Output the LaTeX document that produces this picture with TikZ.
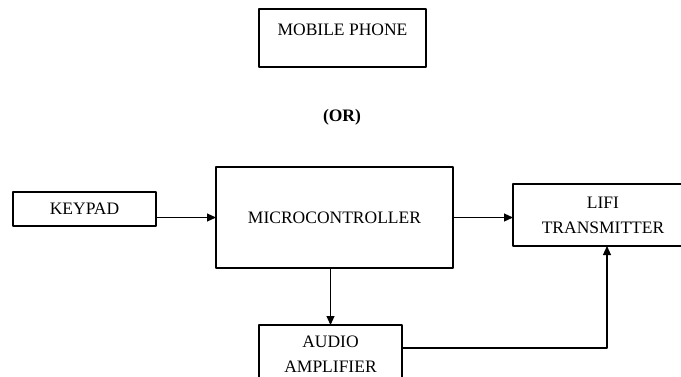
\documentclass[tikz,border=0pt]{standalone}
\usepackage{fontspec}
\setmainfont{Liberation Serif}
\usetikzlibrary{arrows.meta}
\tikzset{blockbox/.style={draw,rectangle,inner sep=0pt,outer sep=0pt,align=center}}
\begin{document}
\begin{tikzpicture}[x=1pt,y=-1pt,font=\fontsize{17.5}{25}\selectfont,line width=1.1pt,line join=round,>={Triangle[length=9pt,width=8pt]}]
	\useasboundingbox (0,0) rectangle (681,376);
	
	\node[blockbox,minimum width=167pt,minimum height=58pt] (phone) at (342.5,38) {};
	\path (phone.north) node[below=11pt] {MOBILE PHONE};
	\node (or) at (342,117) {\bfseries (OR)};
	
	\node[blockbox,minimum width=143pt,minimum height=34pt] (keypad) at (84.5,209) {KEYPAD};
	\node[blockbox,minimum width=237pt,minimum height=101pt] (micro) at (334.5,217.5) {MICROCONTROLLER};
	\node[blockbox,minimum width=180pt,minimum height=62pt] (lifi) at (603,215) {LIFI\\TRANSMITTER};
	\node[blockbox,minimum width=143pt,minimum height=59pt] (audio) at (330.5,354.5) {AUDIO\\AMPLIFIER};
	\coordinate (tap) at (607,348);
	
	\draw[->] (keypad.east |- micro.west) -- (micro.west);
	\draw[->] (micro.east) -- (micro.east -| lifi.west);
	\draw[->] (micro.south -| audio.north) -- (audio.north);
	\draw[->] (audio.east |- tap) -- (tap) -- (tap |- lifi.south);
\end{tikzpicture}
\end{document}
